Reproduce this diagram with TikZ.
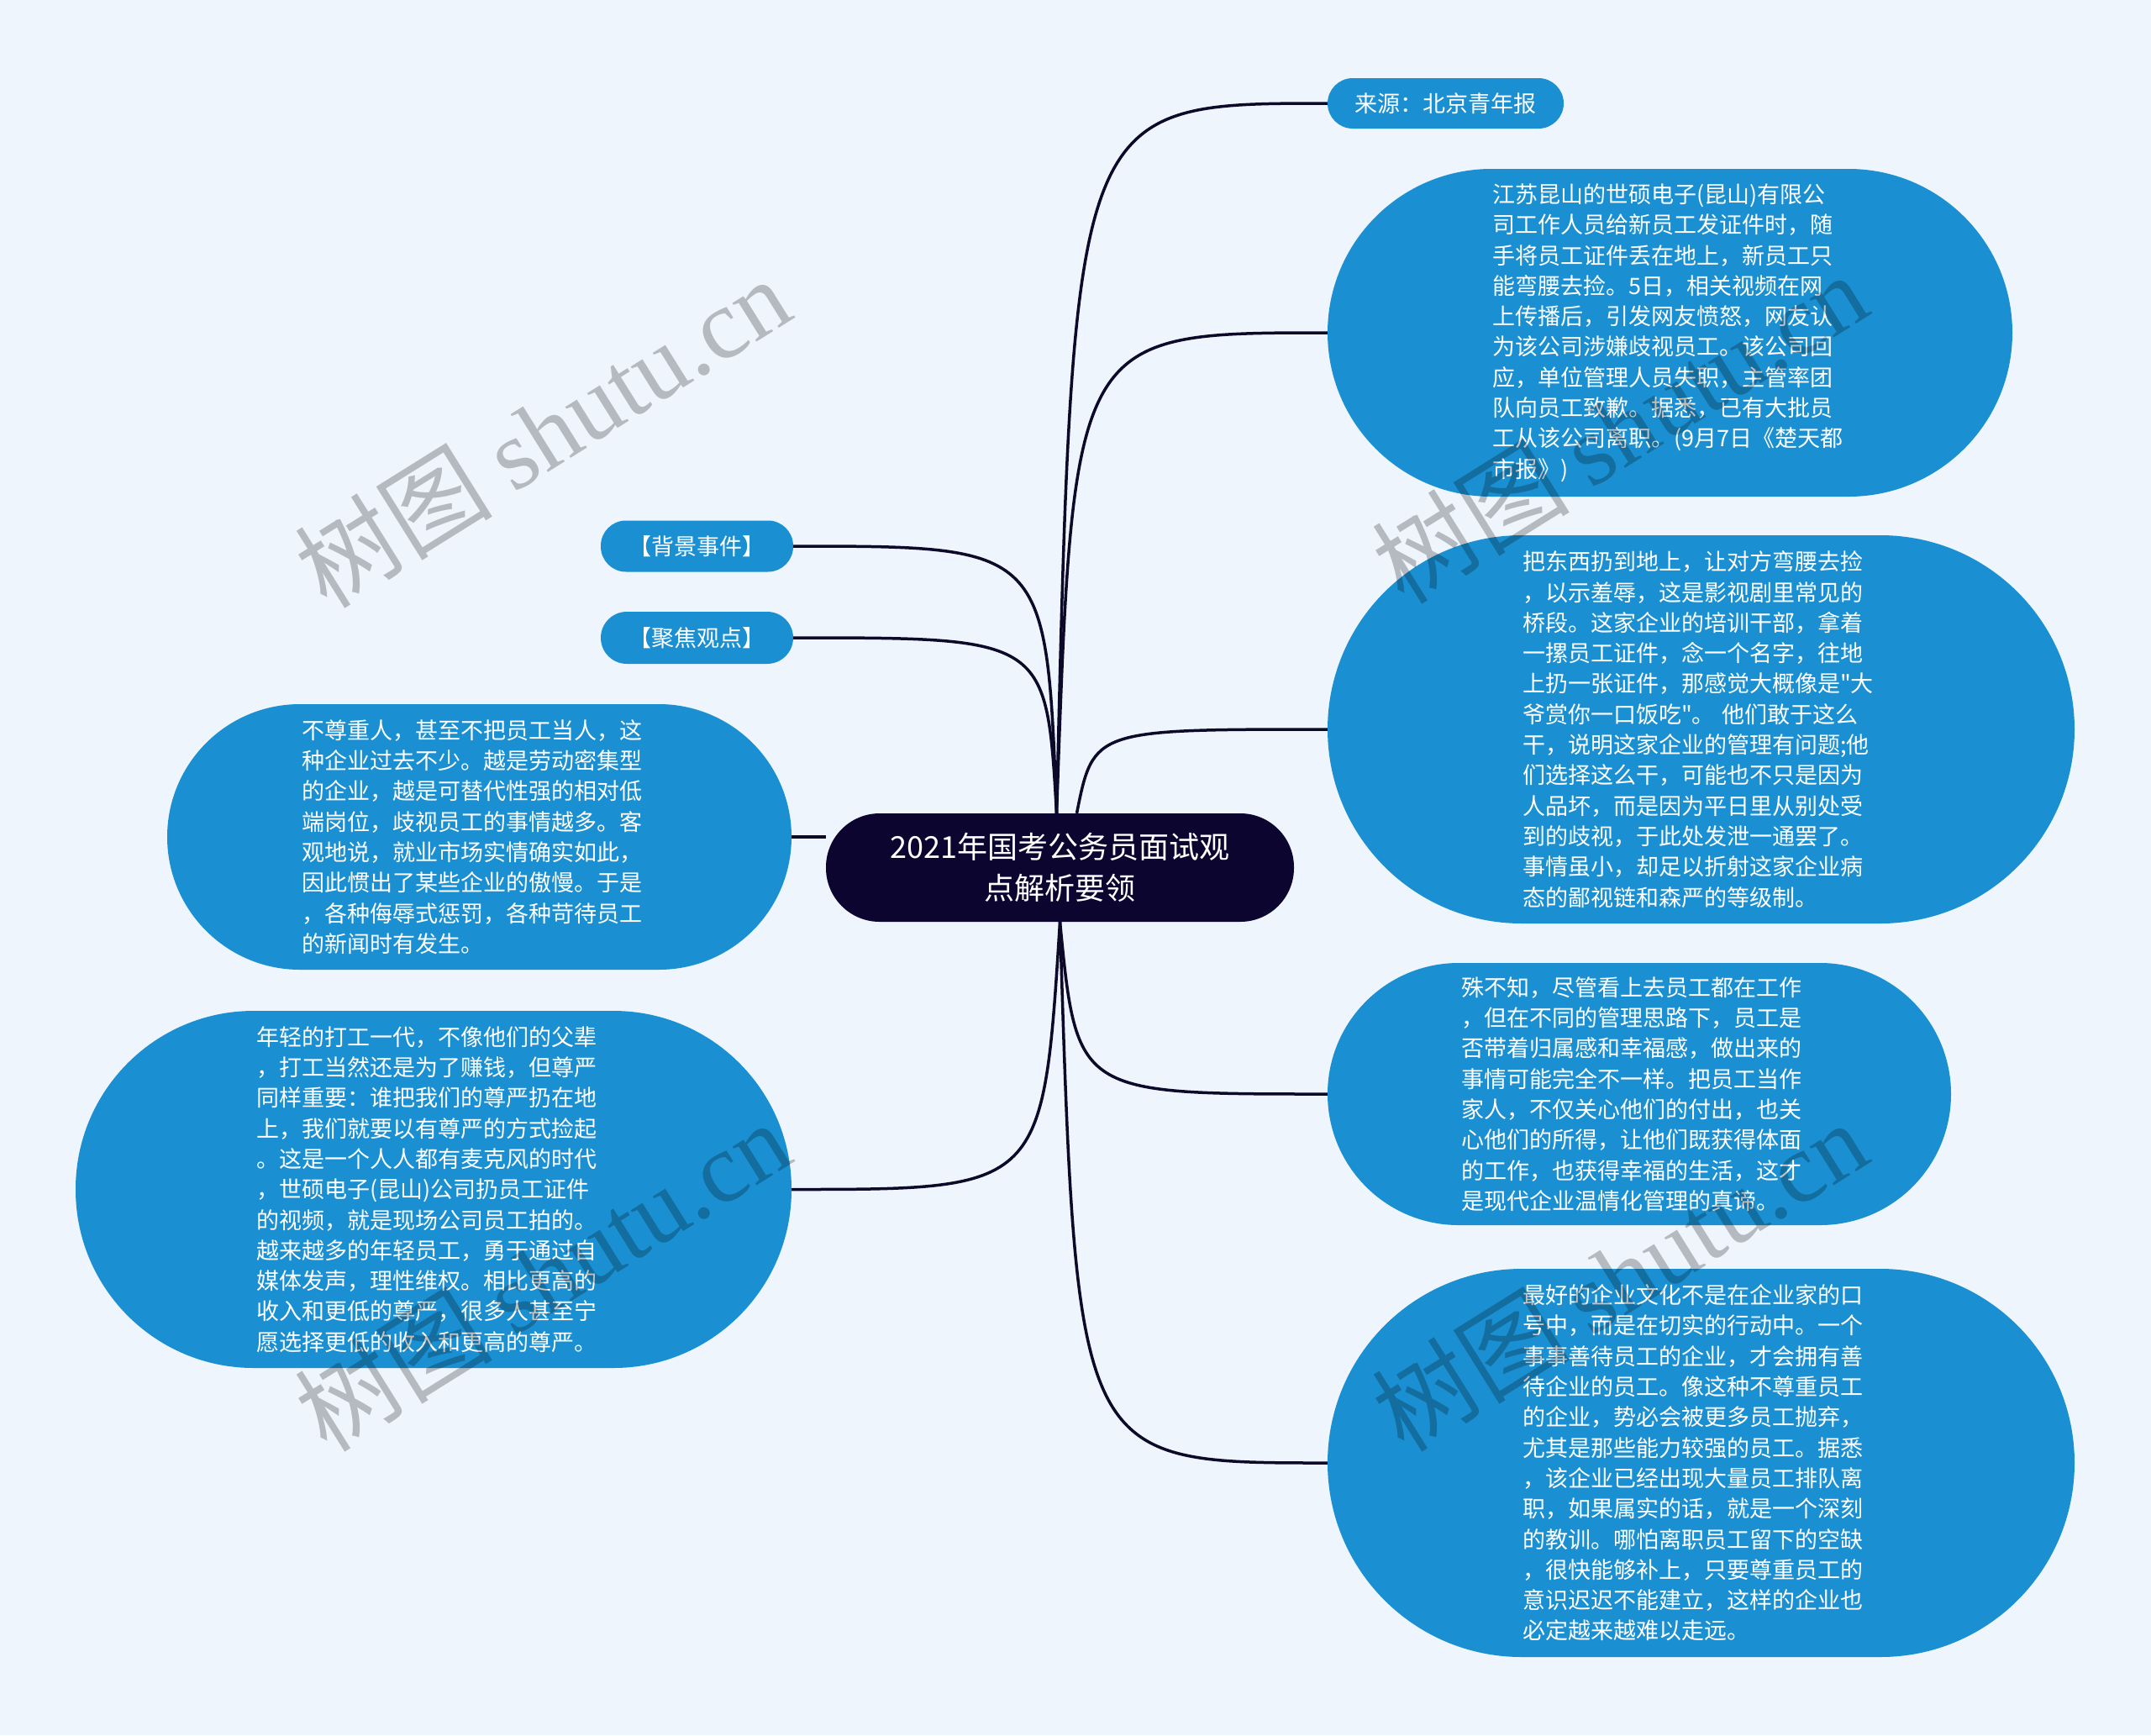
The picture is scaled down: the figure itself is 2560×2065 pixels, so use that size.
\documentclass[tikz,border=0pt]{standalone}
\usepackage{fontspec}
\setmainfont{Noto Sans CJK SC}
\newfontfamily\cjkf{Noto Sans CJK SC}
\newfontfamily\wmserif{Liberation Serif}
\usetikzlibrary{calc}
\definecolor{bgc}{HTML}{EEF5FD}
\definecolor{nodeblue}{HTML}{1A90D2}
\definecolor{navy}{HTML}{0B0530}
\definecolor{linec}{HTML}{0C0A28}
\pgfdeclarelayer{bglayer}
\pgfdeclarelayer{edgelayer}
\pgfsetlayers{bglayer,edgelayer,main}
\begin{document}
\begin{tikzpicture}[x=1pt,y=-1pt,
  pill/.style={fill=nodeblue, draw=none, text=white, inner sep=0pt, align=left,
    font=\cjkf\fontsize{27}{36.3}\selectfont},
  rootnode/.style={fill=navy, draw=none, text=white, inner sep=0pt, align=center,
    font=\cjkf\fontsize{36}{49}\selectfont},
  conn/.style={draw=linec, line width=3.5pt},
  wm/.style={text=black, text opacity=0.24, font=\fontsize{118}{118}\selectfont, inner sep=0pt}]
\begin{pgfonlayer}{bglayer}
\fill[bgc] (0,0) rectangle (2560,2065);
\end{pgfonlayer}
\useasboundingbox (0,0) rectangle (2560,2065);

% central
\node[rootnode, minimum width=557, minimum height=129, rounded corners=64] (cen) at (1261.5,1032.5)
  {2021年国考公务员面试观\\点解析要领};

% right side
\node[pill, align=center, minimum width=281, minimum height=60, rounded corners=30] (src) at (1720.5,123)
  {来源：北京青年报};
\node[pill, minimum width=815, minimum height=390, rounded corners=195, text width=423] (A) at (1987.5,396)
  {江苏昆山的世硕电子(昆山)有限公\\司工作人员给新员工发证件时，随\\手将员工证件丢在地上，新员工只\\能弯腰去捡。5日，相关视频在网\\上传播后，引发网友愤怒，网友认\\为该公司涉嫌歧视员工。该公司回\\应，单位管理人员失职，主管率团\\队向员工致歉。据悉，已有大批员\\工从该公司离职。(9月7日《楚天都\\市报》)};
\node[pill, minimum width=889, minimum height=462, rounded corners=231, text width=425] (B) at (2024.5,868)
  {把东西扔到地上，让对方弯腰去捡\\，以示羞辱，这是影视剧里常见的\\桥段。这家企业的培训干部，拿着\\一摞员工证件，念一个名字，往地\\上扔一张证件，那感觉大概像是"大\\爷赏你一口饭吃"。 他们敢于这么\\干，说明这家企业的管理有问题;他\\们选择这么干，可能也不只是因为\\人品坏，而是因为平日里从别处受\\到的歧视，于此处发泄一通罢了。\\事情虽小，却足以折射这家企业病\\态的鄙视链和森严的等级制。};
\node[pill, minimum width=742, minimum height=312, rounded corners=156, text width=424] (C) at (1951,1302)
  {殊不知，尽管看上去员工都在工作\\，但在不同的管理思路下，员工是\\否带着归属感和幸福感，做出来的\\事情可能完全不一样。把员工当作\\家人，不仅关心他们的付出，也关\\心他们的所得，让他们既获得体面\\的工作，也获得幸福的生活，这才\\是现代企业温情化管理的真谛。};
\node[pill, minimum width=889, minimum height=462, rounded corners=231, text width=425] (D) at (2024.5,1741)
  {最好的企业文化不是在企业家的口\\号中，而是在切实的行动中。一个\\事事善待员工的企业，才会拥有善\\待企业的员工。像这种不尊重员工\\的企业，势必会被更多员工抛弃，\\尤其是那些能力较强的员工。据悉\\，该企业已经出现大量员工排队离\\职，如果属实的话，就是一个深刻\\的教训。哪怕离职员工留下的空缺\\，很快能够补上，只要尊重员工的\\意识迟迟不能建立，这样的企业也\\必定越来越难以走远。};

% left side
\node[pill, align=center, minimum width=229, minimum height=61, rounded corners=30] (E) at (829.5,650)
  {【背景事件】};
\node[pill, align=center, minimum width=229, minimum height=62, rounded corners=31] (F) at (829.5,759)
  {【聚焦观点】};
\node[pill, minimum width=743, minimum height=316, rounded corners=158, text width=423] (G) at (570.5,996)
  {不尊重人，甚至不把员工当人，这\\种企业过去不少。越是劳动密集型\\的企业，越是可替代性强的相对低\\端岗位，歧视员工的事情越多。客\\观地说，就业市场实情确实如此，\\因此惯出了某些企业的傲慢。于是\\，各种侮辱式惩罚，各种苛待员工\\的新闻时有发生。};
\node[pill, minimum width=852, minimum height=425, rounded corners=212, text width=422] (H) at (516,1415.5)
  {年轻的打工一代，不像他们的父辈\\，打工当然还是为了赚钱，但尊严\\同样重要：谁把我们的尊严扔在地\\上，我们就要以有尊严的方式捡起\\。这是一个人人都有麦克风的时代\\，世硕电子(昆山)公司扔员工证件\\的视频，就是现场公司员工拍的。\\越来越多的年轻员工，勇于通过自\\媒体发声，理性维权。相比更高的\\收入和更低的尊严，很多人甚至宁\\愿选择更低的收入和更高的尊严。};

% connector anchor points
\coordinate (ct) at ([xshift=-4pt]cen.north);
\coordinate (ct2) at ([xshift=20pt]cen.north);
\coordinate (cb) at (cen.south);

\begin{pgfonlayer}{edgelayer}
\draw[conn] (ct) .. controls ($(ct |- src.west)+(20,0)$) .. (src.west);
\draw[conn] (ct) .. controls ($(ct |- A.west)+(20,0)$) .. (A.west);
\draw[conn] (ct2) .. controls ($(ct2 |- B.west)+(20,0)$) .. (B.west);
\draw[conn] (E.east) .. controls ($(ct |- E.east)+(-12,0)$) .. (ct);
\draw[conn] (F.east) .. controls ($(ct |- F.east)+(-12,0)$) .. (ct);
\draw[conn] (G.east) -- (G.east -| cen.west);
\draw[conn] (cb) .. controls ($(cb |- C.west)+(20,0)$) .. (C.west);
\draw[conn] (cb) .. controls ($(cb |- D.west)+(20,0)$) .. (D.west);
\draw[conn] (cb) .. controls ($(cb |- H.east)+(-20,0)$) .. (H.east);
\end{pgfonlayer}

% watermarks
\node[wm, rotate=32] (w1) at (645,514) {树图 {\wmserif shutu.cn}};
\node[wm, rotate=32] (w2) at (1927,509) {树图 {\wmserif shutu.cn}};
\node[wm, rotate=32] (w3) at (645,1518) {树图 {\wmserif shutu.cn}};
\node[wm, rotate=32] (w4) at (1927,1518) {树图 {\wmserif shutu.cn}};
\end{tikzpicture}
\end{document}
